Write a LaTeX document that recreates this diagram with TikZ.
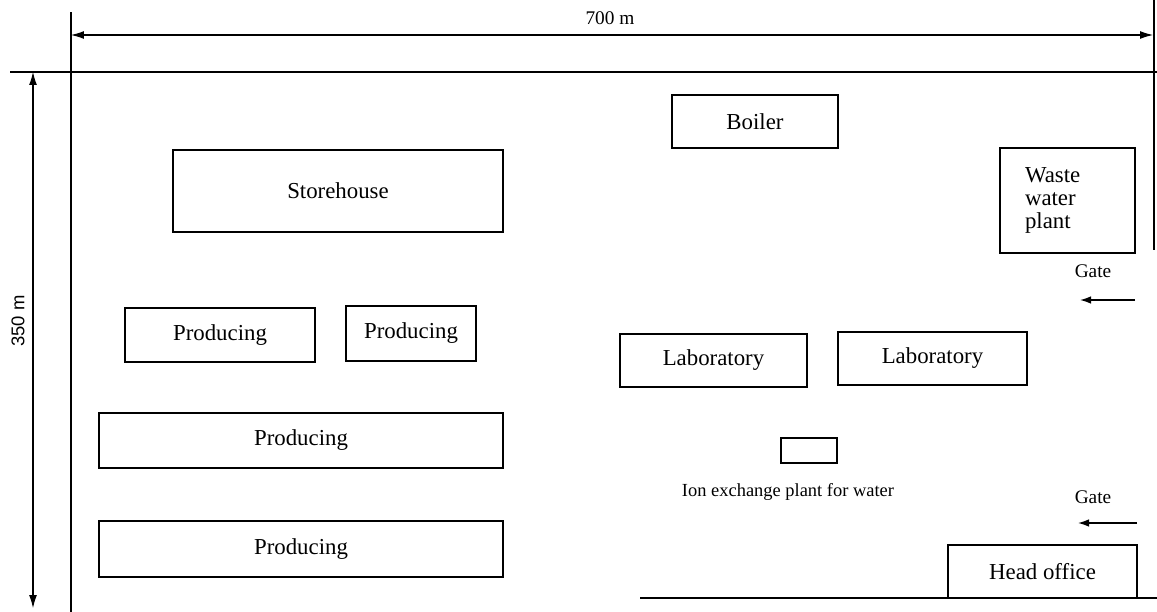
\documentclass[tikz,border=0pt]{standalone}
\usepackage{fontspec}
\setmainfont{Liberation Serif}
\newfontfamily\dimfont{Liberation Sans}
\usetikzlibrary{arrows.meta}

\tikzset{
  bldg/.style={draw=black, line width=0.9pt, inner sep=0pt, font=\fontsize{13}{13}\selectfont},
  lbl/.style={inner sep=0pt, font=\fontsize{13}{13}\selectfont},
  gatearrow/.style={-{Latex[length=2.2mm,width=1.5mm]}, line width=0.8pt},
  dimline/.style={{Latex[length=2.6mm,width=1.6mm]}-{Latex[length=2.6mm,width=1.6mm]}, line width=0.6pt}
}

\begin{document}
\begin{tikzpicture}[x=0.02cm, y=-0.02cm]
\useasboundingbox (0,0) rectangle (1157,612);

% site boundary
\coordinate (TL) at (71,12);
\coordinate (BL) at (71,612);
\coordinate (T0) at (10,72);
\coordinate (T1) at (1157,72);
\coordinate (R0) at (1154,0);
\coordinate (R1) at (1154,250);
\coordinate (B0) at (640,598);
\coordinate (B1) at (1157,598);

\draw[black,line width=1.5pt] (TL)--(BL);
\draw[black,line width=0.6pt] (T0)--(T1);
\draw[black,line width=1.2pt] (R0)--(R1);
\draw[black,line width=0.6pt] (B0)--(B1);

% dimensions
\coordinate (W0) at (71,35);
\coordinate (W1) at (1153,35);
\coordinate (H0) at (33,72);
\coordinate (H1) at (33,608);

\draw[dimline] (W0)--(W1);
\draw[dimline] (H0)--(H1);
\node[inner sep=0pt, font=\fontsize{11}{11}\selectfont] (width) at (610,18) {700 m};
\node[inner sep=0pt, rotate=90, font=\dimfont\fontsize{10.5}{11}\selectfont] (height) at (18,321) {350 m};

% buildings
\node[bldg, minimum width=3.32cm, minimum height=1.06cm] (boiler) at (755,121.5) {Boiler};
\node[bldg, minimum width=6.6cm, minimum height=1.64cm] (store) at (338,191) {Storehouse};
\node[bldg, minimum width=2.7cm, minimum height=2.1cm, inner xsep=0.5cm, text width=1.7cm, align=left] (waste) at (1067.5,200.5) {Waste\\water\\plant};

\node[bldg, minimum width=3.8cm, minimum height=1.08cm] (prod1) at (220,335) {Producing};
\node[bldg, minimum width=2.6cm, minimum height=1.1cm] (prod2) at (411,333.5) {Producing};
\node[bldg, minimum width=3.74cm, minimum height=1.06cm] (lab1) at (713.5,360.5) {Laboratory};
\node[bldg, minimum width=3.78cm, minimum height=1.06cm] (lab2) at (932.5,358.5) {Laboratory};

\node[bldg, minimum width=8.08cm, minimum height=1.1cm] (prod3) at (301,440.5) {Producing};
\node[bldg, minimum width=1.12cm, minimum height=0.5cm] (ion) at (809,450.5) {};
\node[lbl, font=\fontsize{10.5}{11}\selectfont] (ionlbl) at (788,492) {Ion exchange plant for water};

\node[bldg, minimum width=8.08cm, minimum height=1.12cm] (prod4) at (301,549) {Producing};
\node[bldg, minimum width=3.78cm, minimum height=1.06cm] (head) at (1042.5,571.5) {Head office};

% gates
\node[lbl, font=\fontsize{11}{11}\selectfont] (gate1) at (1093,271) {Gate};
\coordinate (g1s) at (1135,300);
\coordinate (g1e) at (1080,300);
\draw[gatearrow] (g1s)--(g1e);

\node[lbl, font=\fontsize{11}{11}\selectfont] (gate2) at (1093,497) {Gate};
\coordinate (g2s) at (1137,523);
\coordinate (g2e) at (1078,523);
\draw[gatearrow] (g2s)--(g2e);

\end{tikzpicture}
\end{document}
